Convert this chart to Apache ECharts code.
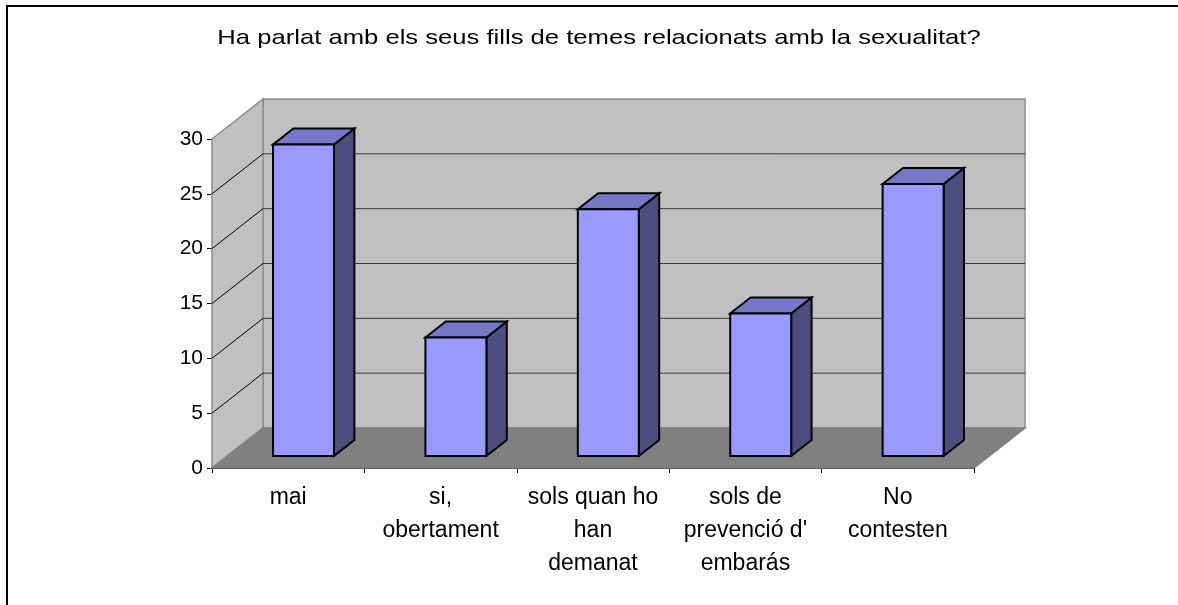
<!DOCTYPE html>
<html lang="ca">
<head>
    <meta charset="utf-8" />
    <title>Sexualitat</title>
    <script src="https://cdn.jsdelivr.net/npm/echarts@6/dist/echarts.min.js"></script>
    <style>
        html, body { margin: 0; padding: 0; background: #fff; }
        #chart { width: 1178px; height: 605px; }
    </style>
</head>
<body>
<div id="chart"></div>
<script type="text/javascript">
    // dades llegides del grafic
    var titleText = 'Ha parlat amb els seus fills de temes relacionats amb la sexualitat?';
    var categories = ['mai', 'si,\nobertament', 'sols quan ho\nhan\ndemanat', 'sols de\nprevenció d\'\nembarás', 'No\ncontesten'];
    var values = [28.4, 10.8, 22.5, 13.0, 24.8];
    var yTicks = [0, 5, 10, 15, 20, 25, 30];

    // profunditat 3D (pixels) del fons respecte al pla frontal
    var DX = 51, DY = -40;
    var FRONT = 0.3, DEPTH = 0.4, HALF = 0.2;
    var FONT = 'Liberation Sans, Arial, sans-serif';

    var chart = echarts.init(document.getElementById('chart'));

    function renderWalls(params, api) {
        var cs = params.coordSys;
        var gx = cs.x, gw = cs.width;
        var yTop = api.coord([0, yTicks[yTicks.length - 1]])[1];
        var yBot = api.coord([0, yTicks[0]])[1];
        var children = [];
        // paret del fons
        children.push({
            type: 'polygon',
            shape: {points: [[gx + DX, yTop + DY], [gx + gw + DX, yTop + DY], [gx + gw + DX, yBot + DY], [gx + DX, yBot + DY]]},
            style: {fill: '#c0c0c0', stroke: '#8c8c8c', lineWidth: 1.5}
        });
        // paret esquerra
        children.push({
            type: 'polygon',
            shape: {points: [[gx, yTop], [gx + DX, yTop + DY], [gx + DX, yBot + DY], [gx, yBot]]},
            style: {fill: '#c0c0c0', stroke: '#8c8c8c', lineWidth: 1.5}
        });
        // terra
        children.push({
            type: 'polygon',
            shape: {points: [[gx, yBot], [gx + gw, yBot], [gx + gw + DX, yBot + DY], [gx + DX, yBot + DY]]},
            style: {fill: '#808080', stroke: '#808080', lineWidth: 1.5}
        });
        for (var i = 1; i < yTicks.length - 1; i++) {
            var y = api.coord([0, yTicks[i]])[1];
            children.push({
                type: 'line',
                shape: {x1: gx + DX, y1: y + DY, x2: gx + gw + DX, y2: y + DY},
                style: {stroke: '#3a3a3a', lineWidth: 1}
            });
            children.push({
                type: 'line',
                shape: {x1: gx, y1: y, x2: gx + DX, y2: y + DY},
                style: {stroke: '#000', lineWidth: 1}
            });
        }
        return {type: 'group', children: children};
    }

    function renderBar(params, api) {
        var idx = api.value(0);
        var v = api.value(1);
        var base = api.coord([idx, 0]);
        var top = api.coord([idx, v]);
        var bw = api.size([1, 0])[0];
        var ox = FRONT * DX, oy = FRONT * DY;
        var dx = DEPTH * DX, dy = DEPTH * DY;
        var x1 = base[0] - HALF * bw + ox, x2 = base[0] + HALF * bw + ox;
        var yt = top[1] + oy, yb = base[1] + oy;
        var line = {stroke: '#000', lineWidth: 2, lineJoin: 'miter'};
        return {
            type: 'group',
            children: [{
                type: 'polygon',
                shape: {points: [[x2, yt], [x2 + dx, yt + dy], [x2 + dx, yb + dy], [x2, yb]]},
                style: Object.assign({fill: '#4d4d80'}, line)
            }, {
                type: 'polygon',
                shape: {points: [[x1, yt], [x2, yt], [x2 + dx, yt + dy], [x1 + dx, yt + dy]]},
                style: Object.assign({fill: '#7777c8'}, line)
            }, {
                type: 'rect',
                shape: {x: x1, y: yt, width: x2 - x1, height: yb - yt},
                style: Object.assign({fill: '#9999ff'}, line)
            }]
        };
    }

    var barData = [];
    for (var i = 0; i < values.length; i++) {
        barData.push([i, values[i]]);
    }

    var option = {
        animation: false,
        backgroundColor: '#fff',
        graphic: [{
            type: 'rect',
            shape: {x: 7, y: 6, width: 1200, height: 640},
            style: {fill: null, stroke: '#000', lineWidth: 2},
            silent: true
        }, {
            // el titol de l'original es veu estirat en horitzontal
            type: 'text',
            x: 599,
            y: 38,
            scaleX: 1.22,
            style: {
                text: titleText,
                fill: '#000',
                font: '21px ' + FONT,
                textAlign: 'center',
                textVerticalAlign: 'middle'
            }
        }],
        grid: {left: 212, right: 204, top: 139, bottom: 137, containLabel: false},
        xAxis: {
            type: 'category',
            data: categories,
            boundaryGap: true,
            axisLine: {lineStyle: {color: '#000', width: 1}},
            axisTick: {show: true, length: 5, lineStyle: {color: '#000'}},
            axisLabel: {
                color: '#000', fontSize: 23, fontFamily: FONT,
                lineHeight: 33, margin: 13, interval: 0
            },
            splitLine: {show: false}
        },
        yAxis: {
            type: 'value',
            min: 0,
            max: 30,
            interval: 5,
            axisLine: {show: true, lineStyle: {color: '#000', width: 1}},
            axisTick: {show: true, length: 5, lineStyle: {color: '#000'}},
            axisLabel: {color: '#000', fontSize: 21, fontFamily: FONT, margin: 9},
            splitLine: {show: false}
        },
        series: [{
            type: 'custom',
            renderItem: renderWalls,
            data: [[0, 0]],
            z: 1,
            silent: true
        }, {
            type: 'custom',
            renderItem: renderBar,
            encode: {x: 0, y: 1},
            data: barData,
            z: 2
        }]
    };

    chart.setOption(option);
</script>
</body>
</html>
